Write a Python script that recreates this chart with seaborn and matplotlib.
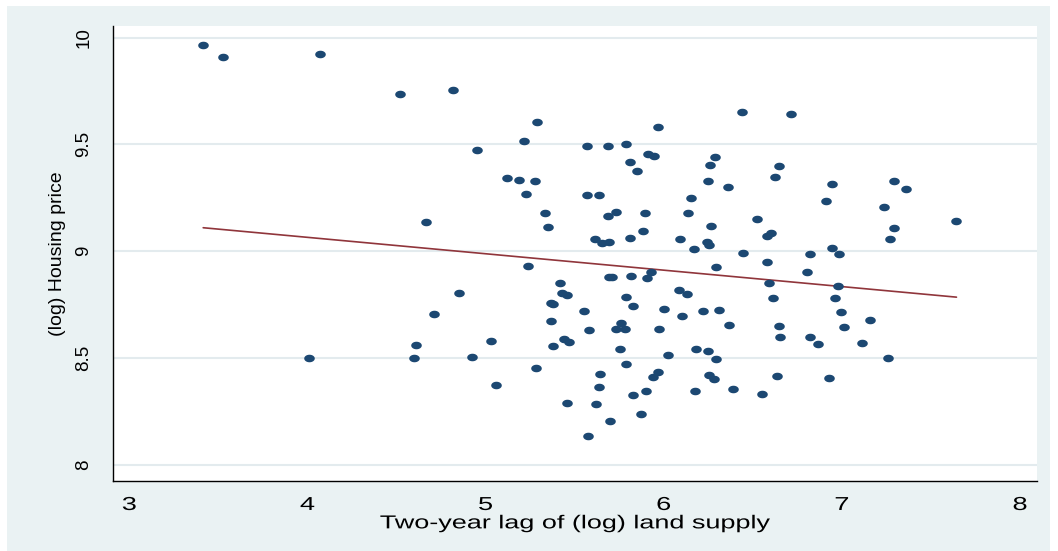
import numpy as np
import pandas as pd
import matplotlib
matplotlib.use("Agg")
import matplotlib.pyplot as plt
import seaborn as sns
from matplotlib.path import Path
from matplotlib.patches import Rectangle
from matplotlib.patheffects import AbstractPathEffect
from matplotlib.transforms import Affine2D

# ---- data ----
land_supply = [
    3.415, 3.528, 4.072, 4.519, 4.817, 4.949, 4.663, 5.217, 5.290, 5.567,
    5.686, 5.786, 5.969, 5.912, 5.948, 5.808, 5.849, 5.121, 5.187, 5.277,
    5.226, 5.570, 5.636, 6.152, 6.134, 5.333, 5.351, 5.688, 5.731, 5.894,
    5.885, 5.613, 5.651, 5.690, 5.810, 6.094, 6.171, 5.236, 5.690, 5.712,
    5.815, 5.904, 5.928, 6.437, 6.712, 6.287, 6.261, 6.648, 6.623, 6.249,
    6.358, 6.943, 6.913, 7.291, 7.360, 7.237, 7.643, 7.291, 7.269, 6.264,
    6.522, 6.577, 6.601, 6.240, 6.253, 6.444, 6.943, 6.983, 6.820, 6.292,
    6.580, 6.805, 5.417, 5.428, 5.455, 4.852, 4.710, 5.368, 5.379, 5.550,
    5.786, 5.825, 6.002, 6.083, 6.128, 6.103, 6.218, 5.368, 4.609, 4.598,
    5.031, 4.922, 5.056, 5.281, 5.379, 5.439, 5.469, 5.581, 5.761, 5.731,
    5.782, 5.971, 5.752, 6.025, 6.180, 5.786, 5.643, 5.941, 5.969, 5.636,
    5.825, 5.900, 6.178, 5.458, 5.617, 5.875, 5.701, 5.576, 4.010, 6.590,
    6.979, 6.616, 6.962, 6.308, 6.365, 6.994, 7.155, 6.646, 6.652, 7.012,
    6.820, 6.867, 7.110, 7.256, 6.249, 6.292, 6.255, 6.281, 6.389, 6.550,
    6.633, 6.925,
]
housing_price = [
    9.967, 9.911, 9.924, 9.737, 9.757, 9.475, 9.139, 9.516, 9.607, 9.491,
    9.491, 9.500, 9.580, 9.455, 9.444, 9.419, 9.374, 9.344, 9.335, 9.331,
    9.269, 9.264, 9.264, 9.247, 9.181, 9.177, 9.114, 9.166, 9.183, 9.177,
    9.094, 9.057, 9.039, 9.041, 9.060, 9.055, 9.010, 8.932, 8.879, 8.879,
    8.883, 8.875, 8.905, 9.652, 9.641, 9.439, 9.405, 9.400, 9.349, 9.330,
    9.299, 9.315, 9.235, 9.327, 9.293, 9.208, 9.143, 9.108, 9.058, 9.118,
    9.152, 9.071, 9.086, 9.041, 9.027, 8.991, 9.013, 8.988, 8.988, 8.925,
    8.949, 8.903, 8.849, 8.806, 8.797, 8.805, 8.707, 8.757, 8.752, 8.719,
    8.785, 8.745, 8.730, 8.819, 8.799, 8.697, 8.721, 8.672, 8.560, 8.500,
    8.580, 8.505, 8.372, 8.453, 8.558, 8.588, 8.577, 8.630, 8.666, 8.638,
    8.635, 8.636, 8.542, 8.516, 8.544, 8.471, 8.425, 8.413, 8.435, 8.363,
    8.328, 8.347, 8.344, 8.288, 8.285, 8.239, 8.205, 8.135, 8.502, 8.849,
    8.839, 8.780, 8.782, 8.724, 8.656, 8.717, 8.677, 8.649, 8.599, 8.644,
    8.597, 8.567, 8.572, 8.502, 8.532, 8.497, 8.422, 8.403, 8.355, 8.333,
    8.416, 8.408,
]
x_ticks = [3, 4, 5, 6, 7, 8]
x_tick_labels = ["3", "4", "5", "6", "7", "8"]
y_ticks = [8, 8.5, 9, 9.5, 10]
y_tick_labels = ["8", "8.5", "9", "9.5", "10"]
x_label = "Two-year lag of (log) land supply"
y_label = "(log) Housing price"


class Stretch(AbstractPathEffect):
    """Draw text glyphs stretched along the baseline, about their centre."""

    def __init__(self, sx=1.0, sy=1.0):
        super().__init__()
        self.sx, self.sy = sx, sy

    def draw_path(self, renderer, gc, tpath, affine, rgbFace=None):
        ext = tpath.get_extents()
        cx = (ext.x0 + ext.x1) / 2
        cy = (ext.y0 + ext.y1) / 2
        t = Affine2D().translate(-cx, -cy).scale(self.sx, self.sy).translate(cx, cy)
        renderer.draw_path(gc, tpath, t + affine, rgbFace)


# ---- style ----
sns.set_style("white")
plt.rcParams['font.family'] = ['Liberation Sans', 'DejaVu Sans']

W, H = 1058, 551
fig = plt.figure(figsize=(W / 100, H / 100), dpi=100)
fig.patch.set_facecolor("white")
fig.add_artist(Rectangle((7 / W, 0), (1050 - 7) / W, (H - 6) / H,
                         transform=fig.transFigure, facecolor="#EAF2F3",
                         edgecolor="none", zorder=0))

left, right, top, bottom = 112.7, 1037, 25.7, 481
ax = fig.add_axes([left / W, 1 - bottom / H, (right - left) / W, (bottom - top) / H])
ax.set_facecolor("white")

df = pd.DataFrame({"land": land_supply, "price": housing_price})

theta = np.linspace(0, 2 * np.pi, 41)
ellipse = Path(np.column_stack([1.4 * np.cos(theta), np.sin(theta)]), closed=True)

sns.regplot(data=df, x="land", y="price", ci=None, ax=ax,
            marker=ellipse, color="#1c4872",
            scatter_kws=dict(s=58, alpha=1, linewidths=0, zorder=3),
            line_kws=dict(color="#90353b", lw=1.2, zorder=2))

ax.set_xlim(2.907, 8.095)
ax.set_ylim(7.924, 10.056)
ax.set_xticks(x_ticks, x_tick_labels)
ax.set_yticks(y_ticks, y_tick_labels)

ax.yaxis.grid(True, color="#E3EBEE", lw=1.5)
ax.xaxis.grid(False)
ax.set_axisbelow(True)

for s in ["top", "right"]:
    ax.spines[s].set_visible(False)
for s in ["left", "bottom"]:
    ax.spines[s].set_color("black")
    ax.spines[s].set_linewidth(1.0)

ax.tick_params(axis="both", direction="out", length=7.5, width=1.0,
               color="#777777", labelsize=13.5, labelcolor="black")
ax.tick_params(axis="x", pad=4)
ax.tick_params(axis="y", pad=7, labelrotation=90)
for lab in ax.get_yticklabels():
    lab.set_va("center")
    lab.set_ha("right")
for lab in ax.get_xticklabels():
    lab.set_path_effects([Stretch(sx=1.45)])

ax.set_xlabel(x_label, fontsize=13.5, labelpad=1, color="black")
ax.xaxis.label.set_path_effects([Stretch(sx=1.44)])
ax.set_ylabel(y_label, fontsize=14, labelpad=7, color="black")

fig.savefig("out.png", dpi=100, facecolor=fig.get_facecolor())
